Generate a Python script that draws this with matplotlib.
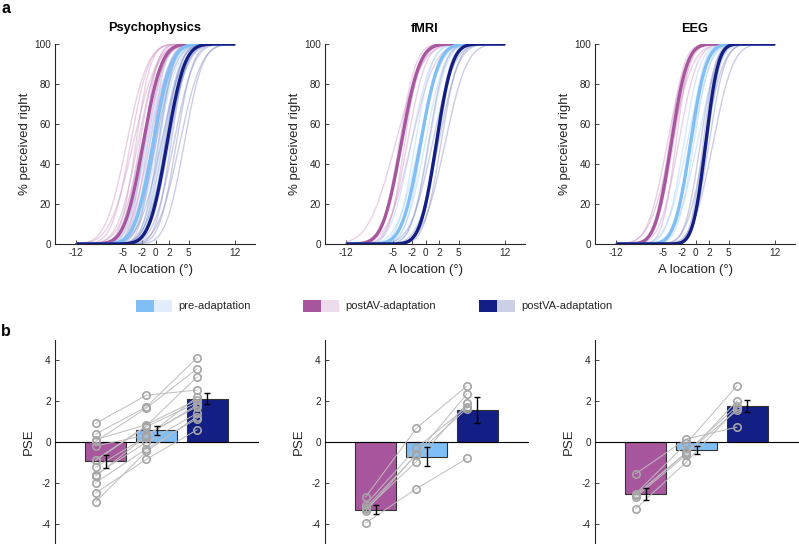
import numpy as np
import matplotlib
matplotlib.use("Agg")
import matplotlib.pyplot as plt
from matplotlib.patches import Rectangle
from math import erf, sqrt

plt.rcParams['font.family'] = ['Liberation Sans', 'DejaVu Sans']
plt.rcParams['axes.unicode_minus'] = False

# ---------------- data ----------------
panels = ["Psychophysics", "fMRI", "EEG"]
conditions = ["postAV-adaptation", "pre-adaptation", "postVA-adaptation"]
legend_order = ["pre-adaptation", "postAV-adaptation", "postVA-adaptation"]

xticks_loc = [-12, -5, -2, 0, 2, 5, 12]

# group psychometric curves (PSE, sigma) per panel: postAV, pre, postVA
group_pse = {
    "Psychophysics": [-1.9, -0.4, 1.7],
    "fMRI": [-3.7, -0.8, 1.6],
    "EEG": [-3.7, -0.8, 1.5],
}
group_sigma = {
    "Psychophysics": [2.2, 2.2, 2.1],
    "fMRI": [2.2, 2.2, 1.9],
    "EEG": [1.9, 1.9, 1.5],
}

# individual psychometric curves
indiv_pse = {
    "Psychophysics": [
        [-4.4, -3.8, -3.4, -3.0, -2.7, -2.4, -2.1, -1.8, -1.5, -1.2, -0.9, -0.5, -0.1],
        [-2.0, -1.6, -1.2, -0.9, -0.6, -0.4, -0.2, 0.0, 0.3, 0.6, 0.9, 1.3, 1.8],
        [-0.5, 0.0, 0.4, 0.8, 1.1, 1.4, 1.7, 2.0, 2.3, 2.7, 3.1, 3.6, 4.3],
    ],
    "fMRI": [
        [-4.6, -4.0, -3.6, -3.2, -2.8, -2.2],
        [-2.2, -1.6, -1.0, -0.6, -0.1, 0.5],
        [0.4, 1.0, 1.5, 1.9, 2.3, 2.9],
    ],
    "EEG": [
        [-4.3, -4.0, -3.7, -3.4, -3.0, -2.6],
        [-1.8, -1.3, -0.9, -0.6, -0.3, 0.2],
        [0.7, 1.1, 1.4, 1.7, 2.0, 2.6],
    ],
}
indiv_sigma = {
    "Psychophysics": [
        [2.5, 2.2, 2.8, 1.8, 2.4, 2.0, 2.6, 1.6, 2.2, 1.9, 2.4, 1.5, 2.0],
        [2.3, 2.0, 2.6, 1.8, 2.2, 2.5, 1.9, 2.1, 2.4, 1.7, 2.2, 2.0, 2.3],
        [2.0, 2.4, 1.8, 2.6, 2.1, 1.9, 2.5, 2.2, 1.8, 2.4, 2.0, 2.6, 2.2],
    ],
    "fMRI": [
        [3.2, 2.0, 2.4, 1.8, 2.2, 2.8],
        [2.4, 2.0, 2.6, 1.9, 2.3, 2.1],
        [2.0, 2.6, 1.8, 2.4, 2.0, 2.6],
    ],
    "EEG": [
        [2.3, 1.8, 2.6, 2.0, 1.6, 2.2],
        [2.0, 2.4, 1.7, 2.2, 1.9, 2.5],
        [1.8, 1.5, 2.2, 1.6, 1.9, 2.4],
    ],
}

# PSE per subject: postAV, pre, postVA
pse_subj = {
    "Psychophysics": [
        [0.91, 0.39, 0.11, 0.03, -0.2, -0.88, -0.9, -1.24, -1.6, -1.68, -2.0, -2.5, -2.94],
        [2.29, 1.72, 0.85, 1.66, 0.34, 0.8, 0.75, 0.26, -0.02, 0.3, -0.34, -0.85, -0.46],
        [2.55, 4.13, 2.07, 3.59, 1.74, 3.19, 1.93, 2.21, 1.41, 1.82, 1.15, 0.6, 1.25],
    ],
    "fMRI": [
        [-2.7, -3.07, -3.24, -3.3, -3.4, -3.97],
        [0.67, -0.29, -0.62, -0.96, -0.6, -2.29],
        [2.76, 1.72, 2.37, 1.89, 1.64, -0.8],
    ],
    "EEG": [
        [-1.56, -2.54, -2.62, -2.7, -3.28, -2.6],
        [0.15, -0.07, -0.5, -0.63, -0.98, -0.55],
        [0.73, 2.76, 1.77, 2.02, 1.66, 1.56],
    ],
}
pse_mean = {
    "Psychophysics": [-0.95, 0.57, 2.12],
    "fMRI": [-3.32, -0.72, 1.58],
    "EEG": [-2.54, -0.40, 1.77],
}
pse_sem = {
    "Psychophysics": [0.30, 0.21, 0.27],
    "fMRI": [0.21, 0.48, 0.63],
    "EEG": [0.29, 0.21, 0.31],
}

# ---------------- style ----------------
dark = {"pre-adaptation": "#80bff5", "postAV-adaptation": "#a8579e", "postVA-adaptation": "#131f85"}
light = {"pre-adaptation": "#e2eefc", "postAV-adaptation": "#eedbec", "postVA-adaptation": "#ccd0e6"}
thin = {"pre-adaptation": "#a9d0f6", "postAV-adaptation": "#cf98c8", "postVA-adaptation": "#8a91c6"}
txt = "#262626"

W, H = 799, 544
fig = plt.figure(figsize=(W / 100, H / 100), dpi=100)

def fx(px):
    return px / W

def fy(py):
    return 1 - py / H

lefts_top = [55, 325, 595]
lefts_bot = [55, 325, 595]

erf_v = np.vectorize(erf)
xs = np.linspace(-12, 12, 400)

def cumgauss(x, mu, s):
    return 100 * 0.5 * (1 + erf_v((x - mu) / (s * sqrt(2))))

TICK_FS = 7.2
LAB_FS = 9.5

for i, p in enumerate(panels):
    ax = fig.add_axes([fx(lefts_top[i]), fy(244), fx(200), fy(44) - fy(244)])
    for ci, c in enumerate(conditions):
        for mu, s in zip(indiv_pse[p][ci], indiv_sigma[p][ci]):
            ax.plot(xs, cumgauss(xs, mu, s), color=thin[c], lw=1.0, alpha=0.45)
    for ci, c in enumerate(conditions):
        ax.plot(xs, cumgauss(xs, group_pse[p][ci], group_sigma[p][ci]),
                color=dark[c], lw=2.4, solid_capstyle='butt')
    ax.set_xlim(-15.2, 15)
    ax.set_ylim(0, 100)
    ax.set_xticks(xticks_loc)
    ax.set_xticklabels([str(v) for v in xticks_loc])
    ax.set_yticks([0, 20, 40, 60, 80, 100])
    for sp in ["top", "right"]:
        ax.spines[sp].set_visible(False)
    for sp in ["left", "bottom"]:
        ax.spines[sp].set_linewidth(0.8)
        ax.spines[sp].set_color("#262626")
    ax.tick_params(direction='in', length=3, width=0.6, labelsize=TICK_FS,
                   colors=txt, pad=3)
    ax.set_xlabel("A location (°)", fontsize=LAB_FS, color=txt, labelpad=4)
    ax.set_ylabel("% perceived right", fontsize=LAB_FS, color=txt, labelpad=2)
    ax.set_title(p, fontsize=9.2, fontweight='bold', pad=9)

    # bar panel
    bx = fig.add_axes([fx(lefts_bot[i]), 0, fx(203), fy(340)])
    pos = np.arange(1, 4)
    bx.bar(pos, pse_mean[p], width=0.8, color=[dark[c] for c in conditions],
           edgecolor="#333333", linewidth=0.8, zorder=2)
    subj = np.array(pse_subj[p])
    for k in range(subj.shape[1]):
        bx.plot(pos - 0.2, subj[:, k], color="#bdbdbd", lw=0.7, zorder=3)
    for ci in range(3):
        bx.plot(np.full(subj.shape[1], pos[ci] - 0.2), subj[ci], 'o',
                mfc='none', mec="#a6a6a6", ms=5.3, mew=1.2, zorder=4)
    bx.errorbar(pos, pse_mean[p], yerr=pse_sem[p], fmt='none', ecolor='k',
                elinewidth=1.0, capsize=2.5, capthick=1.0, zorder=5)
    bx.set_xlim(0, 4)
    bx.set_ylim(-5, 5)
    bx.set_yticks([-4, -2, 0, 2, 4])
    bx.set_xticks([])
    bx.spines["top"].set_visible(False)
    bx.spines["right"].set_visible(False)
    bx.spines["bottom"].set_position(('data', 0))
    bx.spines["bottom"].set_linewidth(0.8)
    bx.spines["left"].set_linewidth(0.8)
    bx.spines["left"].set_color("#262626")
    bx.tick_params(direction='in', length=3, width=0.6, labelsize=TICK_FS,
                   colors=txt, pad=3)
    bx.set_ylabel("PSE", fontsize=LAB_FS, color=txt, labelpad=5)

# panel letters
fig.text(fx(1), fy(1), "a", fontsize=11.5, fontweight='bold', va='top', ha='left')
fig.text(fx(1), fy(324), "b", fontsize=11.5, fontweight='bold', va='top', ha='left')

# legend
leg_x = {"pre-adaptation": 136, "postAV-adaptation": 303, "postVA-adaptation": 479}
for c in legend_order:
    x0 = leg_x[c]
    fig.patches.append(Rectangle((fx(x0), fy(312)), fx(18), fy(300) - fy(312),
                                 transform=fig.transFigure, color=dark[c], lw=0))
    fig.patches.append(Rectangle((fx(x0 + 18), fy(312)), fx(18), fy(300) - fy(312),
                                 transform=fig.transFigure, color=light[c], lw=0))
    fig.text(fx(x0 + 42), fy(306), c, fontsize=8, color=txt, va='center', ha='left')

fig.savefig("out.png", dpi=100)
